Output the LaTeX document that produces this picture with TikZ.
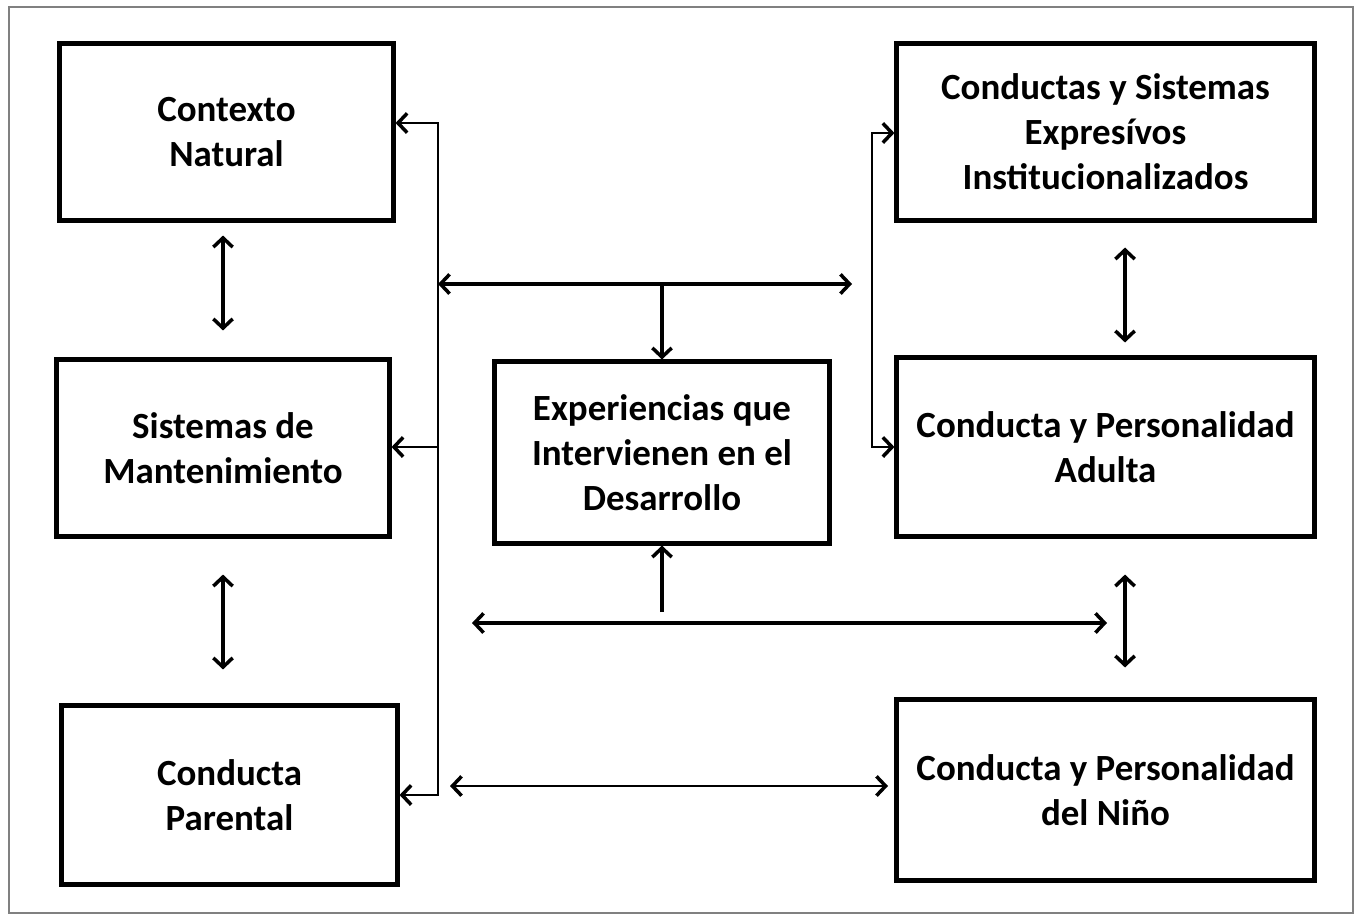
\documentclass[tikz,border=0pt]{standalone}
\usepackage{fontspec}
\setmainfont{Carlito}
\usetikzlibrary{arrows.meta,calc}

\begin{document}
\begin{tikzpicture}[x=0.01cm,y=-0.01cm,
    >={Straight Barb[length=2.6pt,width=5.5pt,line width=1pt]},
    caja/.style={draw=black,line width=1.4pt,align=center,inner sep=0pt,
        font=\bfseries\fontsize{10.5}{12.8}\selectfont},
    fina/.style={draw=black,line width=0.6pt},
    gruesa/.style={draw=black,line width=1.1pt}]

    \useasboundingbox (0,0) rectangle (1361,915);
    \draw[gray,line width=0.6pt] (9,7) rectangle (1353,913);

    % cajas de la izquierda
    \node[caja,minimum width=3.33cm,minimum height=1.76cm] (ctx) at (226.5,132) {Contexto\\Natural};
    \node[caja,minimum width=3.32cm,minimum height=1.76cm] (sis) at (223,448) {Sistemas de\\Mantenimiento};
    \node[caja,minimum width=3.35cm,minimum height=1.78cm] (par) at (229.5,795) {Conducta\\Parental};

    % caja central
    \node[caja,minimum width=3.34cm,minimum height=1.81cm] (exp) at (662,452.5) {Experiencias que\\Intervienen en el\\Desarrollo};

    % cajas de la derecha
    \node[caja,minimum width=4.17cm,minimum height=1.76cm] (ins) at (1105.5,132) {Conductas y Sistemas\\Expresívos\\Institucionalizados};
    \node[caja,minimum width=4.17cm,minimum height=1.78cm] (adu) at (1105.5,447) {Conducta y Personalidad\\Adulta};
    \node[caja,minimum width=4.17cm,minimum height=1.80cm] (nin) at (1105.5,790) {Conducta y Personalidad\\del Niño};

    \coordinate (lt) at (438,123);
    \coordinate (lm) at (438,447);
    \coordinate (lb) at (438,795);
    \coordinate (rt) at (872,133);
    \coordinate (rb) at (872,447);
    \coordinate (ha) at (438,284);
    \coordinate (hb) at (852,284);
    \coordinate (hc) at (662,284);
    \coordinate (ba) at (472,623);
    \coordinate (bb) at (1107,623);
    \coordinate (bc) at (662,612);
    \coordinate (na) at (450,786);
    \coordinate (nb) at (888,786);

    % lineas finas
    \draw[fina,<->] (ctx.east |- lt) -- (lt) -- (lb) -- (par.east |- lb);
    \draw[fina,->] (lm) -- (sis.east |- lm);
    \draw[fina,<->] (ins.west |- rt) -- (rt) -- (rb) -- (adu.west |- rb);
    \draw[fina,<->] (na) -- (nb);

    % flechas gruesas
    \draw[gruesa,<->] (ha) -- (hb);
    \draw[gruesa,->] (hc) -- (exp.north);
    \draw[gruesa,<->] (ba) -- (bb);
    \draw[gruesa,->] (bc) -- (exp.south);
    \draw[gruesa,<->,shorten <=0.13cm,shorten >=0.27cm] (sis.north |- ctx.south) -- (sis.north);
    \draw[gruesa,<->,shorten <=0.36cm,shorten >=0.34cm] (sis.south) -- (sis.south |- par.north);
    \draw[gruesa,<->,shorten <=0.25cm,shorten >=0.13cm] ([xshift=0.195cm]ins.south) -- ([xshift=0.195cm]adu.north);
    \draw[gruesa,<->,shorten <=0.36cm,shorten >=0.30cm] ([xshift=0.195cm]adu.south) -- ([xshift=0.195cm]adu.south |- nin.north);
\end{tikzpicture}
\end{document}
